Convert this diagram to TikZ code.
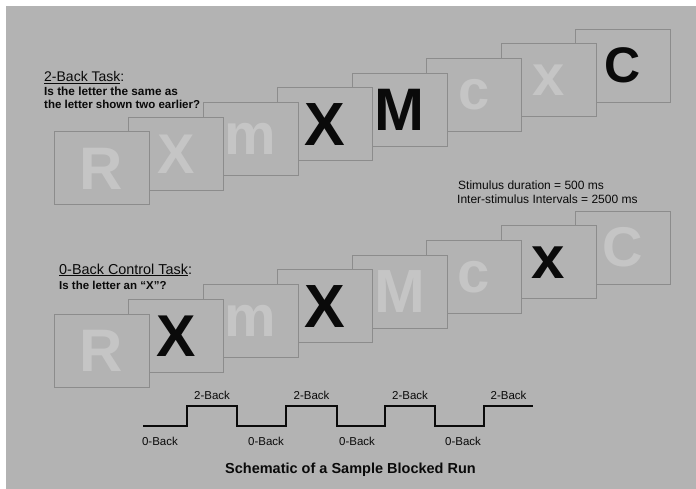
\documentclass[tikz,border=0pt]{standalone}
\usepackage{fontspec}
\setmainfont{Liberation Sans}
\definecolor{bg}{HTML}{B3B3B3}
\definecolor{edge}{HTML}{8C8C8C}
\definecolor{ghost}{HTML}{C5C5C5}
\definecolor{ink}{HTML}{0A0A0A}
\begin{document}
\begin{tikzpicture}[x=1pt, y=-1pt,
    card/.style={draw=edge, fill=bg, line width=1pt, minimum width=95pt, minimum height=73pt, inner sep=0pt},
    label/.style={anchor=base west, inner sep=0pt, text=ink},
    wave/.style={line width=1.6pt, draw=ink},
    tick/.style={anchor=base, inner sep=0pt, text=ink, font=\fontsize{11.5}{12}\selectfont}]
    \useasboundingbox (0,0) rectangle (696,489);
    % Background
    \fill[bg] (6,6) rectangle (696,489);

    % 2-Back row (later cards sit behind earlier ones)
    \foreach \i/\l/\c/\s in {8/C/ink/50, 7/x/ghost/58, 6/c/ghost/56, 5/M/ink/60, 4/X/ink/61, 3/m/ghost/58, 2/X/ghost/56, 1/R/ghost/60}
        \node[card, text=\c, font=\bfseries\fontsize{\s}{\s}\selectfont] (top\i) at ({101.5+74.5*(\i-1)}, {168.5-14.7*(\i-1)}) {\l};

    % 0-Back row
    \foreach \i/\l/\c/\s in {8/C/ghost/56, 7/x/ink/60, 6/c/ghost/58, 5/M/ghost/61, 4/X/ink/61, 3/m/ghost/58, 2/X/ink/59, 1/R/ghost/60}
        \node[card, text=\c, font=\bfseries\fontsize{\s}{\s}\selectfont] (bot\i) at ({101.5+74.5*(\i-1)}, {350.5-14.7*(\i-1)}) {\l};

    % Task captions
    \node[label, font=\fontsize{14}{14}\selectfont] (twotitle) at (44,82) {\underline{2-Back Task}:};
    \node[label, font=\bfseries\fontsize{11.8}{13}\selectfont] (twoq1) at (44,96) {Is the letter the same as};
    \node[label, font=\bfseries\fontsize{11.5}{13}\selectfont] (twoq2) at (44,109) {the letter shown two earlier?};
    \node[label, font=\fontsize{14.4}{14}\selectfont] (zerotitle) at (59,274) {\underline{0-Back Control Task}:};
    \node[label, font=\bfseries\fontsize{11.5}{13}\selectfont] (zeroq) at (59,289) {Is the letter an “X”?};

    % Timing
    \node[label, font=\fontsize{12}{12}\selectfont] (dur) at (458,190) {Stimulus duration = 500 ms};
    \node[label, font=\fontsize{12}{12}\selectfont] (isi) at (457,204) {Inter-stimulus Intervals = 2500 ms};

    % Block schematic
    \draw[wave] (143,426) -| (187,406) -| (237,426) -| (286,406) -| (337,426) -| (385,406) -| (435,426) -| (484,406) -- (533,406);
    \foreach \k/\x in {1/212, 2/311.5, 3/410, 4/508.5}
        \node[tick] (hi\k) at (\x,399) {2-Back};
    \foreach \k/\x in {1/160, 2/266, 3/357, 4/463}
        \node[tick] (lo\k) at (\x,445) {0-Back};
    \node[anchor=base, inner sep=0pt, text=ink, font=\bfseries\fontsize{14.5}{15}\selectfont] (caption) at (350.5,473) {Schematic of a Sample Blocked Run};
\end{tikzpicture}
\end{document}
